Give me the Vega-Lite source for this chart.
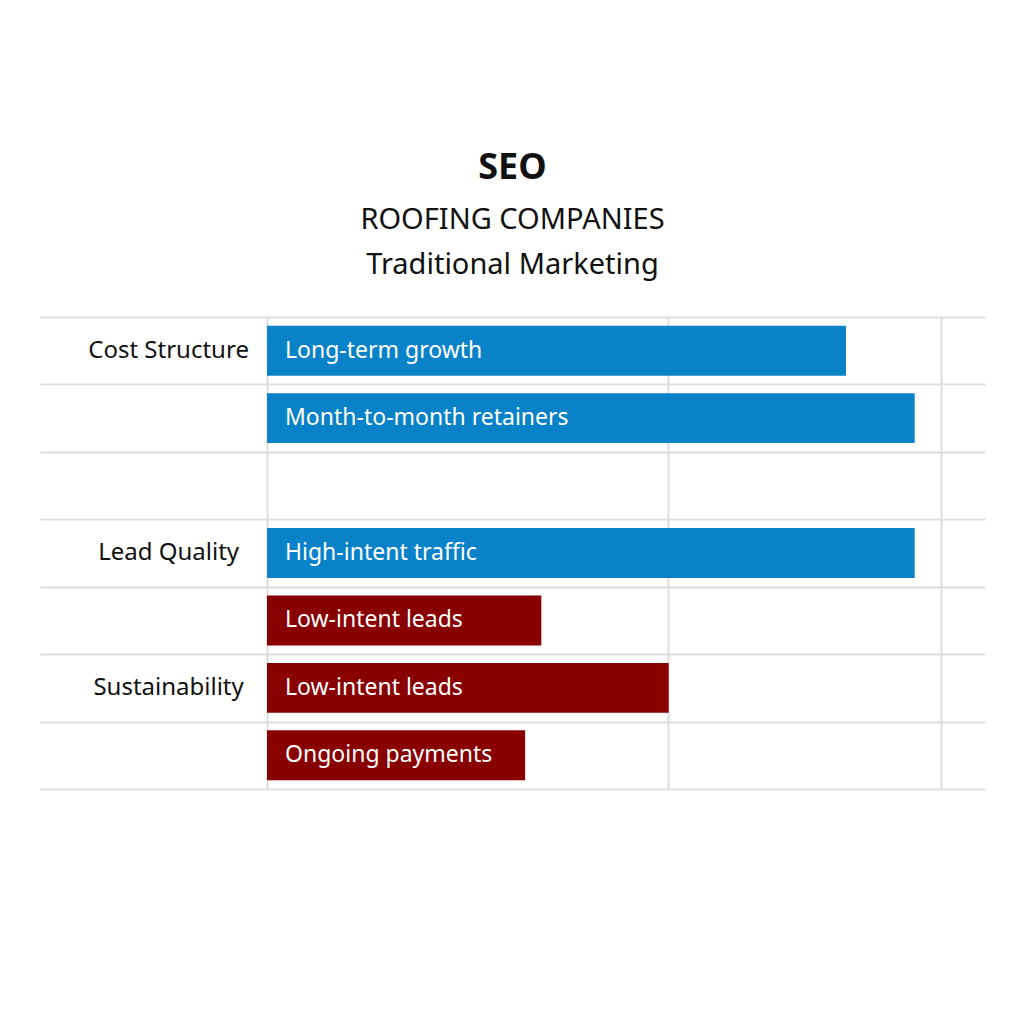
{
  "$schema": "https://vega.github.io/schema/vega-lite/v6.json",
  "width": 945,
  "height": 472,
  "autosize": "none",
  "padding": {"left": 40, "top": 317, "right": 39, "bottom": 235},
  "background": "white",
  "config": {"view": {"stroke": null}, "font": "Noto Sans"},
  "title": {
    "text": "SEO",
    "subtitle": ["ROOFING COMPANIES", "Traditional Marketing"],
    "anchor": "middle",
    "frame": "group",
    "font": "Noto Sans",
    "fontSize": 36,
    "fontWeight": "bold",
    "color": "#111111",
    "subtitleFont": "Noto Sans",
    "subtitleFontSize": 29,
    "subtitleColor": "#111111",
    "subtitleLineHeight": 45,
    "subtitlePadding": 19,
    "offset": 36
  },
  "datasets": {
    "bars": [
      {"row": "1", "item": "Long-term growth", "value": 85.9, "side": "SEO"},
      {"row": "2", "item": "Month-to-month retainers", "value": 96.1, "side": "SEO"},
      {"row": "4", "item": "High-intent traffic", "value": 96.1, "side": "SEO"},
      {"row": "5", "item": "Low-intent leads", "value": 40.7, "side": "Traditional Marketing"},
      {"row": "6", "item": "Low-intent leads", "value": 59.6, "side": "Traditional Marketing"},
      {"row": "7", "item": "Ongoing payments", "value": 38.3, "side": "Traditional Marketing"}
    ],
    "groups": [
      {"row": "1", "group": "Cost Structure"},
      {"row": "4", "group": "Lead Quality"},
      {"row": "6", "group": "Sustainability"}
    ]
  },
  "layer": [
    {
      "data": {"name": "bars"},
      "mark": {"type": "bar", "height": {"band": 0.74}},
      "encoding": {
        "y": {
          "field": "row",
          "type": "nominal",
          "scale": {"domain": ["1", "2", "3", "4", "5", "6", "7"], "paddingInner": 0, "paddingOuter": 0},
          "axis": {
            "title": null,
            "labels": false,
            "ticks": false,
            "domain": false,
            "grid": true,
            "tickBand": "extent",
            "gridColor": "#dddddd",
            "gridWidth": 2
          }
        },
        "x": {
          "field": "value",
          "type": "quantitative",
          "scale": {"domain": [-33.68, 106.53], "nice": false, "zero": false},
          "axis": {
            "title": null,
            "labels": false,
            "ticks": false,
            "domain": false,
            "grid": true,
            "values": [0, 59.5, 100],
            "gridColor": "#dddddd",
            "gridWidth": 2
          }
        },
        "x2": {"datum": 0},
        "color": {
          "field": "side",
          "type": "nominal",
          "scale": {"domain": ["SEO", "Traditional Marketing"], "range": ["#0a82c8", "#880000"]},
          "legend": null
        }
      }
    },
    {
      "data": {"name": "bars"},
      "mark": {"type": "text", "align": "left", "baseline": "middle", "dx": 18, "fontSize": 23, "color": "white", "font": "Noto Sans"},
      "encoding": {
        "y": {"field": "row", "type": "nominal"},
        "x": {"datum": 0},
        "text": {"field": "item"}
      }
    },
    {
      "data": {"name": "groups"},
      "mark": {"type": "text", "align": "center", "baseline": "middle", "fontSize": 24, "color": "#111111", "font": "Noto Sans"},
      "encoding": {
        "y": {"field": "row", "type": "nominal"},
        "x": {"datum": -14.6},
        "text": {"field": "group"}
      }
    }
  ]
}
